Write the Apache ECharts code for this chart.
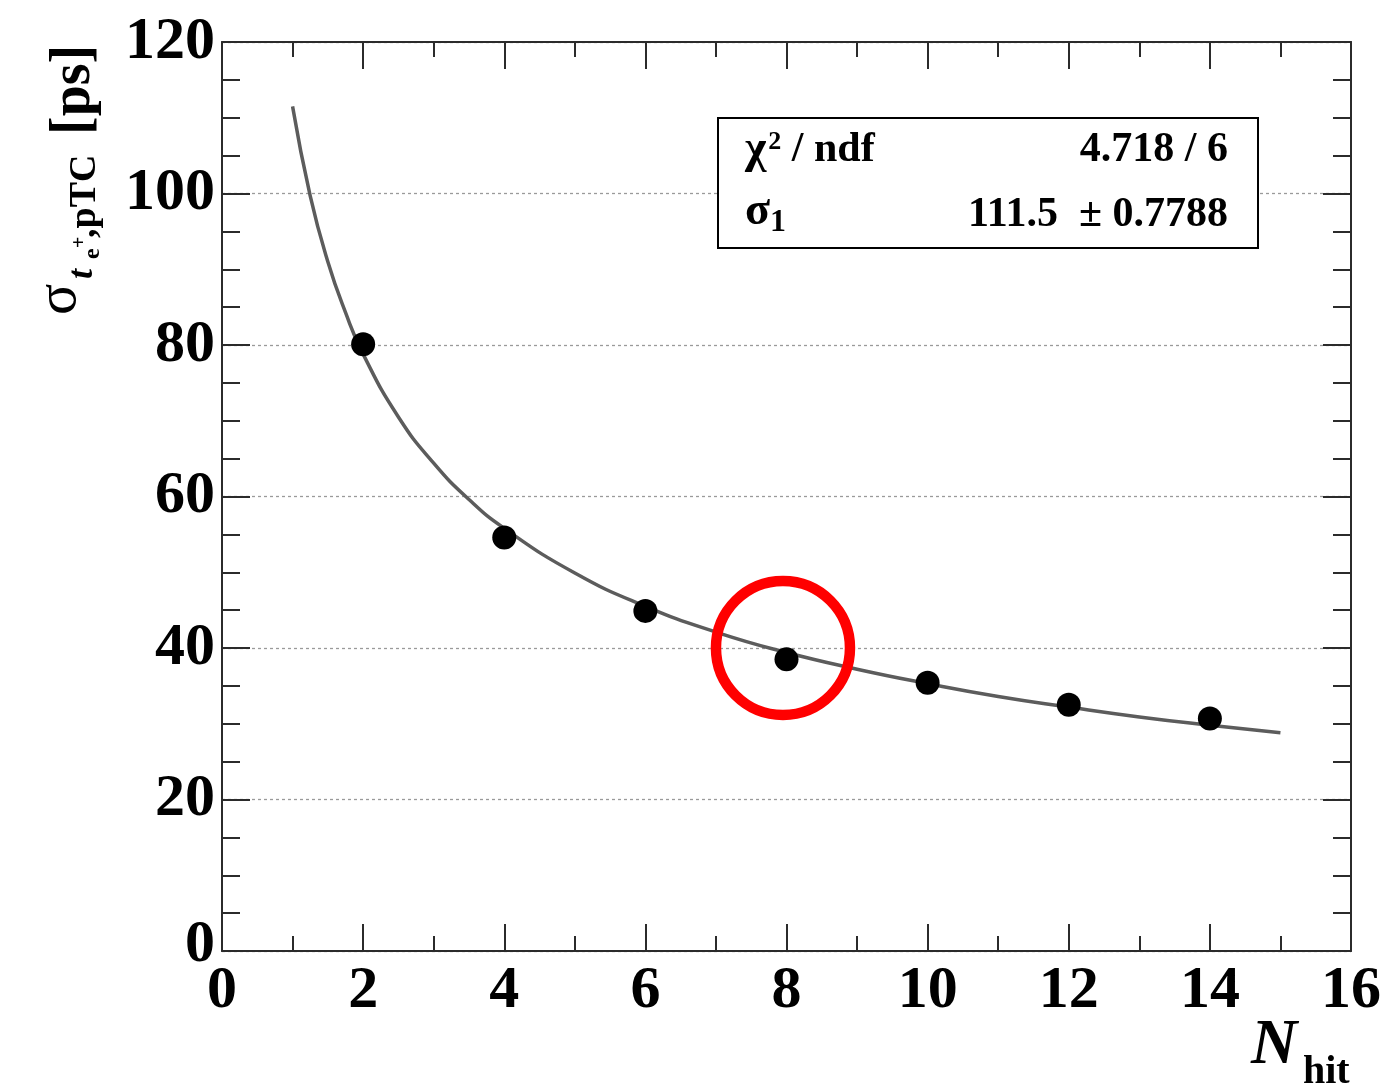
<!DOCTYPE html>
<html>
<head>
<meta charset="utf-8">
<script src="https://cdn.jsdelivr.net/npm/echarts@6/dist/echarts.min.js"></script>
<style>
html,body{margin:0;padding:0;background:#fff;}
#chart{width:1384px;height:1083px;}
</style>
</head>
<body>
<div id="chart"></div>
<script>
// ---- data ----
const nHit = [2, 4, 6, 8, 10, 12, 14];
const sigmaMeas = [80.1, 54.6, 44.9, 38.5, 35.4, 32.5, 30.7];
// fit curve
const fitX = [1, 1.25, 1.5, 1.75, 2, 2.5, 3, 3.5, 4, 5, 6, 7, 8, 9, 10, 11, 12, 13, 14, 15];
const fitY = [111.5, 99.7, 91.0, 84.3, 78.8, 70.5, 64.4, 59.6, 55.8, 49.9, 45.5, 42.1, 39.4, 37.2, 35.3, 33.6, 32.2, 30.9, 29.8, 28.8];
const highlightX = [7.95];
const highlightY = [40.0];
const xTicks = [0, 2, 4, 6, 8, 10, 12, 14, 16];
const yTicks = [0, 20, 40, 60, 80, 100, 120];
const statsValues = ['4.718 / 6', '111.5  \u00b1 0.7788'];

const FONT = '"Liberation Serif", "Times New Roman", serif';
const chart = echarts.init(document.getElementById('chart'), null, {renderer: 'canvas'});

const axisLineStyle = {color: '#2b2b2b', width: 2};
const LBL = 60;

function xAxisCfg(primary) {
  return {
    type: 'value', min: xTicks[0], max: xTicks[xTicks.length - 1], interval: 2,
    position: primary ? 'bottom' : 'top',
    axisLine: {show: true, onZero: false, lineStyle: axisLineStyle},
    axisTick: {show: true, inside: true, length: 27, lineStyle: {color: '#2b2b2b', width: 2}},
    minorTick: {show: true, splitNumber: 2, length: 15, lineStyle: {color: '#2b2b2b', width: 2}},
    axisLabel: primary ? {show: true, margin: 10, color: '#000', fontFamily: FONT, fontWeight: 'bold', fontSize: LBL,
      formatter: function (v) { return v === 0 ? '{z|0}' : String(v); },
      rich: {z: {fontFamily: FONT, fontWeight: 'bold', fontSize: LBL, color: '#000', padding: [0, 0, 0, 0]}}} : {show: false},
    splitLine: {show: false}
  };
}
function yAxisCfg(primary) {
  return {
    type: 'value', min: yTicks[0], max: yTicks[yTicks.length - 1], interval: 20,
    position: primary ? 'left' : 'right',
    axisLine: {show: true, onZero: false, lineStyle: axisLineStyle},
    axisTick: {show: true, inside: true, length: 28, lineStyle: {color: '#2b2b2b', width: 2}},
    minorTick: {show: true, splitNumber: 4, length: 18, lineStyle: {color: '#2b2b2b', width: 2}},
    axisLabel: primary ? {show: true, margin: 7, color: '#000', fontFamily: FONT, fontWeight: 'bold', fontSize: LBL,
      formatter: function (v) { return v === 0 ? '{z|0}' : String(v); },
      rich: {z: {fontFamily: FONT, fontWeight: 'bold', fontSize: LBL, color: '#000', padding: [0, 0, 12, 0]}}} : {show: false},
    splitLine: primary ? {show: true, lineStyle: {color: '#9a9a9a', width: 1.3, type: [3, 3]}} : {show: false}
  };
}

const option = {
  backgroundColor: '#ffffff',
  animation: false,
  grid: {left: 222, right: 32, top: 42, bottom: 132, containLabel: false},
  xAxis: [xAxisCfg(true), xAxisCfg(false)],
  yAxis: [yAxisCfg(true), yAxisCfg(false)],
  series: [
    {
      type: 'line', name: 'fit', xAxisIndex: 0, yAxisIndex: 0,
      data: fitX.map((x, i) => [x, fitY[i]]),
      smooth: true, showSymbol: false, symbol: 'none',
      lineStyle: {color: '#5c5c5c', width: 3.5}, z: 2
    },
    {
      type: 'scatter', name: 'data', xAxisIndex: 0, yAxisIndex: 0,
      data: nHit.map((x, i) => [x, sigmaMeas[i]]),
      symbol: 'circle', symbolSize: 24,
      itemStyle: {color: '#000', opacity: 1}, z: 3
    },
    {
      type: 'scatter', name: 'highlight', xAxisIndex: 0, yAxisIndex: 0,
      data: highlightX.map((x, i) => [x, highlightY[i]]),
      symbol: 'circle', symbolSize: 134, silent: true,
      itemStyle: {color: 'rgba(0,0,0,0)', borderColor: '#ff0000', borderWidth: 10.5, opacity: 1}, z: 4
    }
  ],
  graphic: [
    // stats box
    {
      type: 'rect', left: 717, top: 117, z: 10,
      shape: {width: 540, height: 130},
      style: {fill: '#ffffff', stroke: '#000', lineWidth: 2}
    },
    {
      type: 'text', x: 745, y: 150, z: 11,
      style: {
        text: '{g|\u03c7}{s|2}{n| / ndf}',
        verticalAlign: 'middle', align: 'left',
        rich: {
          g: {fontFamily: FONT, fontSize: 46, fontWeight: 'bold', fill: '#000'},
          s: {fontFamily: FONT, fontSize: 26, fontWeight: 'bold', fill: '#000', padding: [0, 0, 16, 2]},
          n: {fontFamily: FONT, fontSize: 42, fontWeight: 'bold', fill: '#000'}
        }
      }
    },
    {
      type: 'text', x: 1228, y: 150, z: 11,
      style: {text: statsValues[0], verticalAlign: 'middle', align: 'right',
        font: 'bold 42px ' + FONT, fill: '#000'}
    },
    {
      type: 'text', x: 745, y: 212, z: 11,
      style: {
        text: '{g|\u03c3}{s|1}',
        verticalAlign: 'middle', align: 'left',
        rich: {
          g: {fontFamily: FONT, fontSize: 46, fontWeight: 'bold', fill: '#000'},
          s: {fontFamily: FONT, fontSize: 32, fontWeight: 'bold', fill: '#000', padding: [22, 0, 0, 0]}
        }
      }
    },
    {
      type: 'text', x: 1228, y: 215, z: 11,
      style: {text: statsValues[1], verticalAlign: 'middle', align: 'right',
        font: 'bold 42px ' + FONT, fill: '#000'}
    },
    // y-axis title (rotated group)
    {
      type: 'group', x: 93, y: 315, rotation: Math.PI / 2, z: 10,
      children: [
        {type: 'text', x: 0, y: -33, style: {text: '\u03c3', font: '58px ' + FONT, fill: '#000', verticalAlign: 'middle', align: 'left'}},
        {type: 'text', x: 36, y: -10, style: {text: 't', font: 'italic bold 36px ' + FONT, fill: '#000', verticalAlign: 'middle', align: 'left'}},
        {type: 'text', x: 56, y: 0, style: {text: 'e', font: 'bold 24px ' + FONT, fill: '#000', verticalAlign: 'middle', align: 'left'}},
        {type: 'text', x: 67, y: -13, style: {text: '+', font: 'bold 20px ' + FONT, fill: '#000', verticalAlign: 'middle', align: 'left'}},
        {type: 'text', x: 77, y: -8, style: {text: ',pTC', font: 'bold 38px ' + FONT, fill: '#000', verticalAlign: 'middle', align: 'left'}},
        {type: 'text', x: 180, y: -18, style: {text: '[ps]', font: 'bold 56px ' + FONT, fill: '#000', verticalAlign: 'middle', align: 'left'}}
      ]
    },
    // x-axis title
    {
      type: 'text', x: 1251, y: 1046, z: 10,
      style: {text: 'N', font: 'italic bold 64px ' + FONT, fill: '#000', verticalAlign: 'middle', align: 'left'}
    },
    {
      type: 'text', x: 1303, y: 1073, z: 10,
      style: {text: 'hit', font: 'bold 40px ' + FONT, fill: '#000', verticalAlign: 'middle', align: 'left'}
    }
  ]
};
chart.setOption(option);
</script>
</body>
</html>
